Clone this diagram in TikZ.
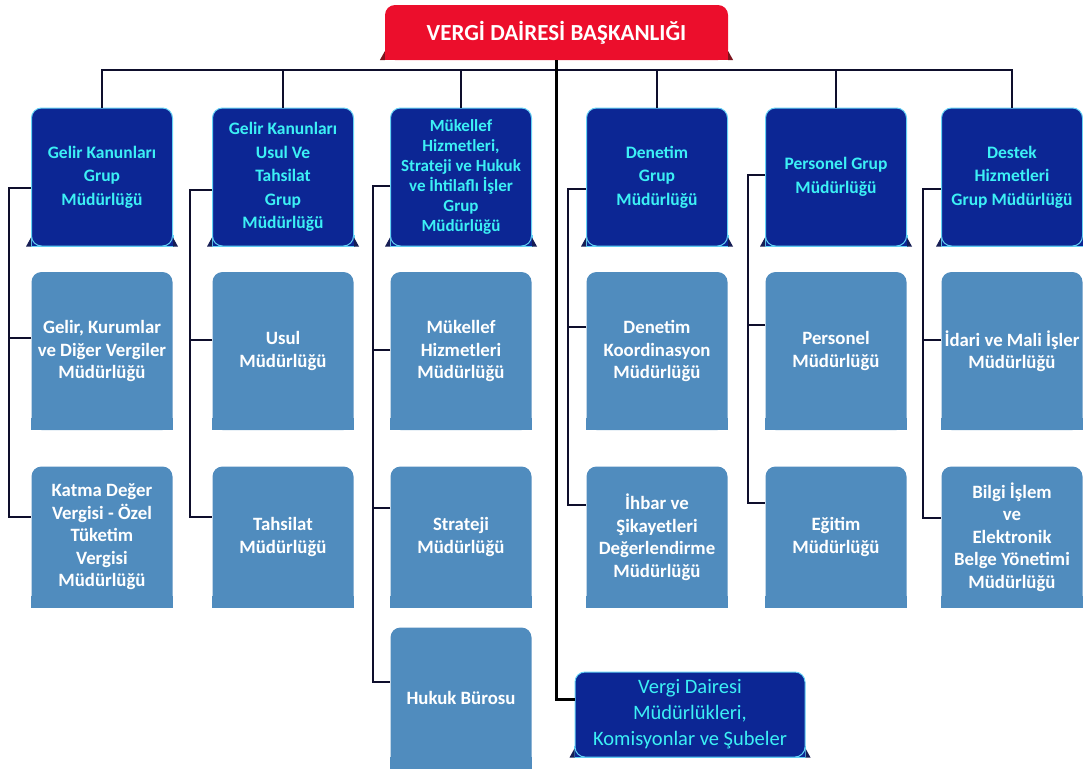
\documentclass[tikz,border=0pt]{standalone}
\usepackage{fontspec}
\setmainfont{Carlito}
\definecolor{navybox}{RGB}{12,38,148}
\definecolor{navytab}{RGB}{22,30,85}
\definecolor{cyantext}{RGB}{60,240,245}
\definecolor{cyanedge}{RGB}{100,210,245}
\definecolor{unitblue}{RGB}{80,140,190}
\definecolor{chiefred}{RGB}{236,14,44}
\definecolor{redtab}{RGB}{125,20,30}
\definecolor{linkcol}{RGB}{14,14,44}
\tikzset{
  flatbase/.style={append after command={\pgfextra{%
    \fill[#1,sharp corners] ([yshift=12pt]\tikzlastnode.south west) rectangle (\tikzlastnode.south east);}}},
  ribbon/.style n args={3}{append after command={\pgfextra{%
    \fill[#1,sharp corners] ([yshift=12pt]\tikzlastnode.south west) rectangle (\tikzlastnode.south east);
    \draw[#3,line width=1pt,sharp corners] ([yshift=12pt]\tikzlastnode.south west) -- (\tikzlastnode.south west)
      -- (\tikzlastnode.south east) -- ([yshift=12pt]\tikzlastnode.south east);
    \fill[#2,sharp corners] (\tikzlastnode.south west) -- ++(-5pt,0pt) -- ++(5pt,9pt) -- cycle;
    \fill[#2,sharp corners] (\tikzlastnode.south east) -- ++(5pt,0pt) -- ++(-5pt,9pt) -- cycle;}}}
}
\tikzstyle{chief} = [rectangle, fill=chiefred, rounded corners=10pt,
    minimum width=343pt, minimum height=55pt, text=white,
    font=\fontsize{23}{27}\selectfont\bfseries, ribbon={chiefred}{redtab}{draw=none}]
\tikzstyle{head} = [rectangle, draw=cyanedge, line width=1pt, fill=navybox, rounded corners=10pt,
    minimum width=141pt, minimum height=138pt, inner sep=2pt, align=center, text=cyantext,
    font=\fontsize{17.5}{23.5}\selectfont\bfseries, ribbon={navybox}{navytab}{draw=cyanedge}]
\tikzstyle{office} = [head, minimum width=230pt, minimum height=85pt,
    font=\fontsize{20.5}{26}\selectfont]
\tikzstyle{unit} = [rectangle, fill=unitblue, rounded corners=10pt,
    minimum width=141pt, minimum height=141pt, inner sep=2pt, align=center, text=white,
    font=\fontsize{18.8}{22.5}\selectfont\bfseries, flatbase=unitblue]
\tikzstyle{tall} = [minimum height=158pt]
\tikzstyle{line} = [draw=linkcol, line width=2pt]
\tikzstyle{rail} = [draw=linkcol, line width=2.5pt]
\tikzstyle{trunk} = [draw=black, line width=3.5pt]

\begin{document}
\begin{tikzpicture}[x=1pt, y=-1pt, node distance=174pt]
    \useasboundingbox (0,0) rectangle (1083,769);
    % Place nodes
    \node [chief] (title) at (556.5,32.5) {VERGİ DAİRESİ BAŞKANLIĞI};
    \node [head] (hGelir) at (102,177) {Gelir Kanunları\\Grup\\Müdürlüğü};
    \node [head, right of=hGelir, node distance=181pt] (hUsul) {Gelir Kanunları\\Usul Ve\\Tahsilat\\Grup\\Müdürlüğü};
    \node [head, right of=hUsul, node distance=178pt, font=\fontsize{17}{20}\selectfont\bfseries] (hMuk)
        {Mükellef\\Hizmetleri,\\Strateji ve Hukuk\\ve İhtilaflı İşler\\Grup\\Müdürlüğü};
    \node [head, right of=hMuk, node distance=196pt] (hDen) {Denetim\\Grup\\Müdürlüğü};
    \node [head, right of=hDen, node distance=179pt] (hPer) {Personel Grup\\Müdürlüğü};
    \node [head, right of=hPer, node distance=176pt] (hDes) {Destek\\Hizmetleri\\Grup Müdürlüğü};

    \node [unit, tall, below of=hGelir] (cGvk) {Gelir, Kurumlar\\ve Diğer Vergiler\\Müdürlüğü};
    \node [unit, below of=cGvk, node distance=186pt] (cKdv) {Katma Değer\\Vergisi - Özel\\Tüketim\\Vergisi\\Müdürlüğü};
    \node [unit, tall, below of=hUsul] (cUsul) {Usul\\Müdürlüğü};
    \node [unit, below of=cUsul, node distance=186pt] (cTah) {Tahsilat\\Müdürlüğü};
    \node [unit, tall, below of=hMuk] (cMuk) {Mükellef\\Hizmetleri\\Müdürlüğü};
    \node [unit, below of=cMuk, node distance=186pt] (cStr) {Strateji\\Müdürlüğü};
    \node [unit, below of=cStr, node distance=161pt] (cHuk) {Hukuk Bürosu};
    \node [unit, tall, below of=hDen] (cKoor) {Denetim\\Koordinasyon\\Müdürlüğü};
    \node [unit, below of=cKoor, node distance=186pt] (cIhb) {İhbar ve\\Şikayetleri\\Değerlendirme\\Müdürlüğü};
    \node [unit, tall, below of=hPer] (cPer) {Personel\\Müdürlüğü};
    \node [unit, below of=cPer, node distance=186pt] (cEgt) {Eğitim\\Müdürlüğü};
    \node [unit, tall, below of=hDes] (cIdr) {İdari ve Mali İşler\\Müdürlüğü};
    \node [unit, below of=cIdr, node distance=186pt] (cBil) {Bilgi İşlem\\ve\\Elektronik\\Belge Yönetimi\\Müdürlüğü};

    \node [office] (vdm) at (690,714.5) {Vergi Dairesi\\Müdürlükleri,\\Komisyonlar ve Şubeler};

    % Draw edges
    \coordinate (railpt) at (556,70);
    \path [rail] (hGelir.north) |- (railpt -| hDes.north) -- (hDes.north);
    \path [line] (hUsul.north) -- (hUsul.north |- railpt);
    \path [line] (hMuk.north) -- (hMuk.north |- railpt);
    \path [line] (hDen.north) -- (hDen.north |- railpt);
    \path [line] (hPer.north) -- (hPer.north |- railpt);
    \path [trunk] (title.south) |- ([yshift=15pt]vdm.west);

    \path [line] ([yshift=-11pt]hGelir.west) -- ++(-22,0) coordinate (bGelir) |- ([yshift=20pt]cKdv.west);
    \path [line] ([yshift=13pt]cGvk.west) -| (bGelir);
    \path [line] ([yshift=-13pt]hUsul.west) -- ++(-22,0) coordinate (bUsul) |- ([yshift=20pt]cTah.west);
    \path [line] ([yshift=11pt]cUsul.west) -| (bUsul);
    \path [line] ([yshift=-9pt]hMuk.west) -- ++(-17,0) coordinate (bMuk) |- ([yshift=16pt]cHuk.west);
    \path [line] ([yshift=1pt]cMuk.west) -| (bMuk);
    \path [line] ([yshift=29pt]cStr.west) -| (bMuk);
    \path [line] ([yshift=-12pt]hDen.west) -- ++(-18,0) coordinate (bDen) |- ([yshift=32pt]cIhb.west);
    \path [line] ([yshift=24pt]cKoor.west) -| (bDen);
    \path [line] ([yshift=2pt]hPer.west) -- ++(-17,0) coordinate (bPer) |- ([yshift=34pt]cEgt.west);
    \path [line] ([yshift=26pt]cPer.west) -| (bPer);
    \path [line] ([yshift=-12pt]hDes.west) -- ++(-18,0) coordinate (bDes) |- ([yshift=19pt]cBil.west);
    \path [line] ([yshift=11pt]cIdr.west) -| (bDes);

\end{tikzpicture}
\end{document}
